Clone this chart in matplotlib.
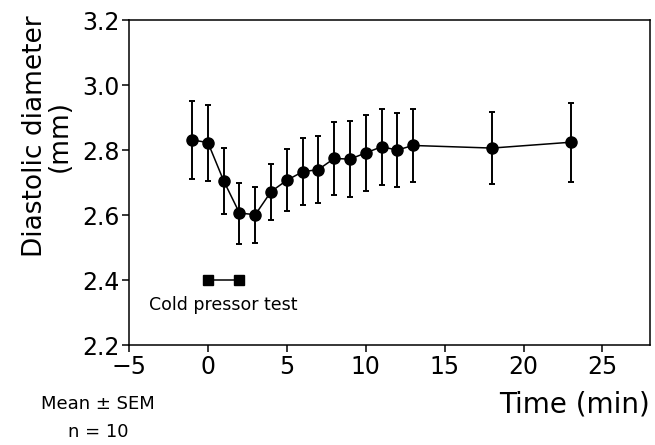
import matplotlib
matplotlib.use("Agg")
import matplotlib.pyplot as plt
import numpy as np

# Time after start (min), mean diastolic diameter (mm) and SEM
time_min = [-1, 0, 1, 2, 3, 4, 5, 6, 7, 8, 9, 10, 11, 12, 13, 18, 23]
diameter = [2.831, 2.823, 2.705, 2.606, 2.601, 2.672, 2.707, 2.733, 2.740,
            2.774, 2.772, 2.791, 2.810, 2.800, 2.814, 2.806, 2.824]
sem = [0.120, 0.117, 0.102, 0.094, 0.086, 0.086, 0.095, 0.103, 0.103,
       0.111, 0.116, 0.118, 0.117, 0.115, 0.112, 0.111, 0.122]

# cold pressor test period
cpt_time = [0, 2]
cpt_level = [2.4, 2.4]

plt.rcParams.update({
    "font.family": "DejaVu Sans",
    "axes.linewidth": 1.1,
})

fig = plt.figure(figsize=(6.55, 4.45), dpi=100)
ax = fig.add_axes([0.197, 0.2247, 0.795, 0.7303])

ax.errorbar(time_min, diameter, yerr=sem, fmt="o-", color="black",
            markersize=8, linewidth=1.1, elinewidth=1.4,
            capsize=2.5, capthick=1.4)
ax.plot(cpt_time, cpt_level, "s-", color="black", markersize=7,
        linewidth=1.1)
ax.text(-3.75, 2.323, "Cold pressor test", fontsize=12.5, va="center",
        ha="left")

ax.set_xlim(-5, 28)
ax.set_ylim(2.2, 3.2)
ax.set_xticks([-5, 0, 5, 10, 15, 20, 25])
ax.set_yticks([2.2, 2.4, 2.6, 2.8, 3.0, 3.2])
ax.set_yticklabels(["2.2", "2.4", "2.6", "2.8", "3.0", "3.2"])
ax.tick_params(direction="out", length=5, width=1.1, labelsize=17,
               pad=2)

fig.text(0.072, 0.694, "Diastolic diameter\n(mm)", rotation=90,
         ha="center", va="center", multialignment="center", fontsize=19,
         linespacing=0.95)
fig.text(0.992, 0.092, "Time (min)", ha="right", va="center", fontsize=20)
fig.text(0.15, 0.092, "Mean \u00b1 SEM", ha="center", va="center",
         fontsize=13)
fig.text(0.15, 0.03, "n = 10", ha="center", va="center", fontsize=13)

fig.savefig("out.png", dpi=100)
